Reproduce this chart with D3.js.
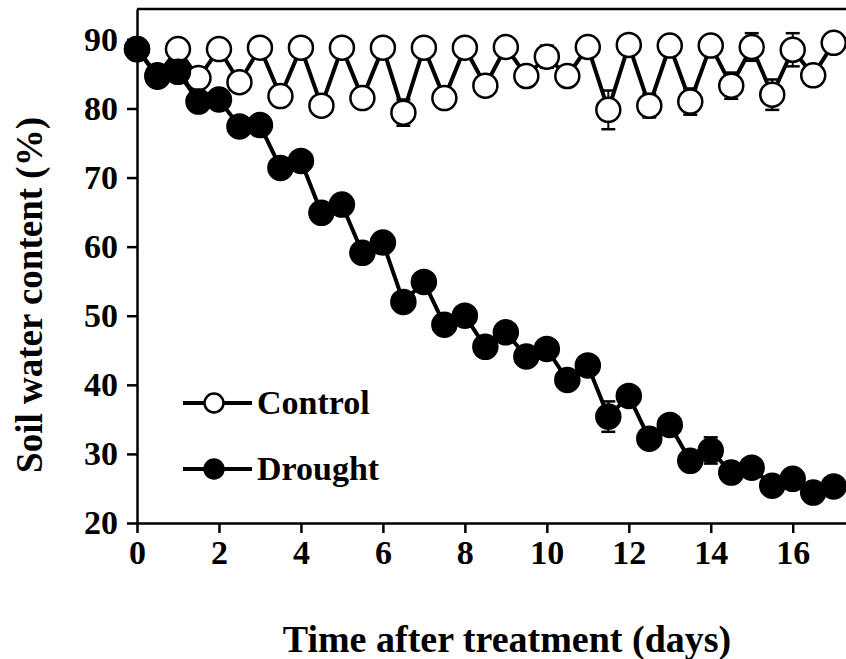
<!DOCTYPE html>
<head>
  <meta charset = "utf-8">
  <title>Soil water content</title>
  <script src = "https://cdn.jsdelivr.net/npm/d3@7"></script>
  <style>
    body { margin: 0; background: #fff; }
    text { font-family: "Liberation Serif", "Times New Roman", serif; font-weight: bold; }
  </style>
</head>

<body>

  <script type="text/javascript">
    var WIDTH = 846;
    var HEIGHT = 659;

    // days after treatment
    var days = [0, 0.5, 1, 1.5, 2, 2.5, 3, 3.5, 4, 4.5, 5, 5.5, 6, 6.5, 7, 7.5, 8, 8.5,
                9, 9.5, 10, 10.5, 11, 11.5, 12, 12.5, 13, 13.5, 14, 14.5, 15, 15.5, 16, 16.5, 17];

    var control = [88.6, 84.8, 88.6, 84.4, 88.6, 83.8, 88.8, 81.8, 88.8, 80.4, 88.8, 81.5,
                   88.8, 79.4, 88.8, 81.5, 88.8, 83.3, 88.9, 84.7, 87.5, 84.7, 88.9, 79.8,
                   89.2, 80.4, 89.1, 81.0, 89.1, 83.3, 88.9, 82.0, 88.5, 84.8, 89.5];
    var controlSE = [0.5, 0.6, 0.5, 0.6, 0.5, 0.6, 0.5, 0.7, 0.5, 0.8, 0.5, 0.7,
                     0.5, 1.9, 0.5, 0.7, 0.5, 0.8, 0.5, 0.6, 1.6, 0.6, 0.5, 2.8,
                     0.5, 1.7, 0.5, 1.9, 0.5, 1.9, 2.0, 2.2, 2.4, 0.6, 0.5];

    var drought = [88.6, 84.6, 85.3, 81.0, 81.3, 77.4, 77.6, 71.4, 72.4, 64.9, 66.1, 59.1,
                   60.6, 52.0, 54.9, 48.7, 50.0, 45.5, 47.6, 44.1, 45.2, 40.7, 42.8, 35.4,
                   38.4, 32.2, 34.2, 29.0, 30.5, 27.3, 28.0, 25.4, 26.4, 24.4, 25.3];
    var droughtSE = [0.4, 0.6, 0.6, 0.7, 0.6, 0.8, 0.7, 0.9, 0.8, 1.0, 0.8, 1.0,
                     0.9, 1.4, 1.0, 0.9, 0.8, 1.0, 0.9, 0.8, 0.9, 1.0, 0.9, 2.2,
                     1.0, 0.9, 0.8, 0.9, 1.9, 0.8, 0.7, 0.8, 0.7, 0.6, 0.6];

    var xTicks = [0, 2, 4, 6, 8, 10, 12, 14, 16];
    var yTicks = [20, 30, 40, 50, 60, 70, 80, 90];

    var svg = d3.select("body").append("svg")
                .attr("width",  WIDTH)
                .attr("height", HEIGHT);

    var x = d3.scaleLinear().domain([0, 17.3]).range([137, 846]);
    var y = d3.scaleLinear().domain([20, 94.4]).range([523, 9]);

    //axes
    svg.append("g")
       .attr("transform", "translate(0," + y(20) + ")")
       .call(d3.axisBottom(x).tickValues(xTicks).tickSize(10).tickSizeOuter(0).tickPadding(7));
    svg.append("g")
       .attr("transform", "translate(" + x(0) + ",0)")
       .call(d3.axisLeft(y).tickValues(yTicks).tickSize(10).tickSizeOuter(0).tickPadding(9));

    svg.selectAll(".domain, .tick line")
       .attr("stroke", "#000")
       .attr("stroke-width", 2.5);
    svg.selectAll(".tick text")
       .attr("fill", "#000")
       .attr("font-size", 34);

    //top border
    svg.append("line")
       .attr("x1", x(0)).attr("x2", WIDTH)
       .attr("y1", y(94.4)).attr("y2", y(94.4))
       .attr("stroke", "#000")
       .attr("stroke-width", 2.5);

    //axis titles
    svg.append("text")
       .attr("x", 507)
       .attr("y", 652)
       .attr("text-anchor", "middle")
       .attr("font-size", 38)
       .text("Time after treatment (days)");

    svg.append("text")
       .attr("transform", "translate(42," + 295 + ") rotate(-90)")
       .attr("text-anchor", "middle")
       .attr("font-size", 37)
       .text("Soil water content (%)");

    var R = 12;

    function drawSeries(vals, se, filled) {
      var pts = days.map(function(d, i){ return {day: d, v: vals[i], se: se[i]}; });
      var line = d3.line()
                   .x(function(d){ return x(d.day); })
                   .y(function(d){ return y(d.v); });
      var g = svg.append("g");

      g.append("path")
       .datum(pts)
       .attr("d", line)
       .attr("fill", "none")
       .attr("stroke", "#000")
       .attr("stroke-width", 4);

      var eb = g.selectAll(".eb")
                .data(pts)
                .enter().append("g");
      eb.append("line")
        .attr("x1", function(d){ return x(d.day); })
        .attr("x2", function(d){ return x(d.day); })
        .attr("y1", function(d){ return y(d.v - d.se); })
        .attr("y2", function(d){ return y(d.v + d.se); })
        .attr("stroke", "#000").attr("stroke-width", 2);
      [-1, 1].forEach(function(s){
        eb.append("line")
          .attr("x1", function(d){ return x(d.day) - 7; })
          .attr("x2", function(d){ return x(d.day) + 7; })
          .attr("y1", function(d){ return y(d.v + s * d.se); })
          .attr("y2", function(d){ return y(d.v + s * d.se); })
          .attr("stroke", "#000").attr("stroke-width", 2.5);
      });

      g.selectAll("circle")
       .data(pts)
       .enter().append("circle")
       .attr("cx", function(d){ return x(d.day); })
       .attr("cy", function(d){ return y(d.v); })
       .attr("r", R)
       .attr("fill", filled ? "#000" : "#fff")
       .attr("stroke", "#000")
       .attr("stroke-width", 2.5);
    }

    drawSeries(control, controlSE, false);
    drawSeries(drought, droughtSE, true);

    //legend
    var legend = [{name: "Control", filled: false, y: 403},
                  {name: "Drought", filled: true, y: 469}];
    var lg = svg.selectAll(".legend")
                .data(legend)
                .enter().append("g")
                .attr("transform", function(d){ return "translate(0," + d.y + ")"; });
    lg.append("line")
      .attr("x1", 183).attr("x2", 252)
      .attr("stroke", "#000").attr("stroke-width", 4);
    lg.append("circle")
      .attr("cx", 214).attr("r", 9.5)
      .attr("fill", function(d){ return d.filled ? "#000" : "#fff"; })
      .attr("stroke", "#000").attr("stroke-width", 2.5);
    lg.append("text")
      .attr("x", 257)
      .attr("y", 11)
      .attr("font-size", 34)
      .text(function(d){ return d.name; });
  </script>
</body>
